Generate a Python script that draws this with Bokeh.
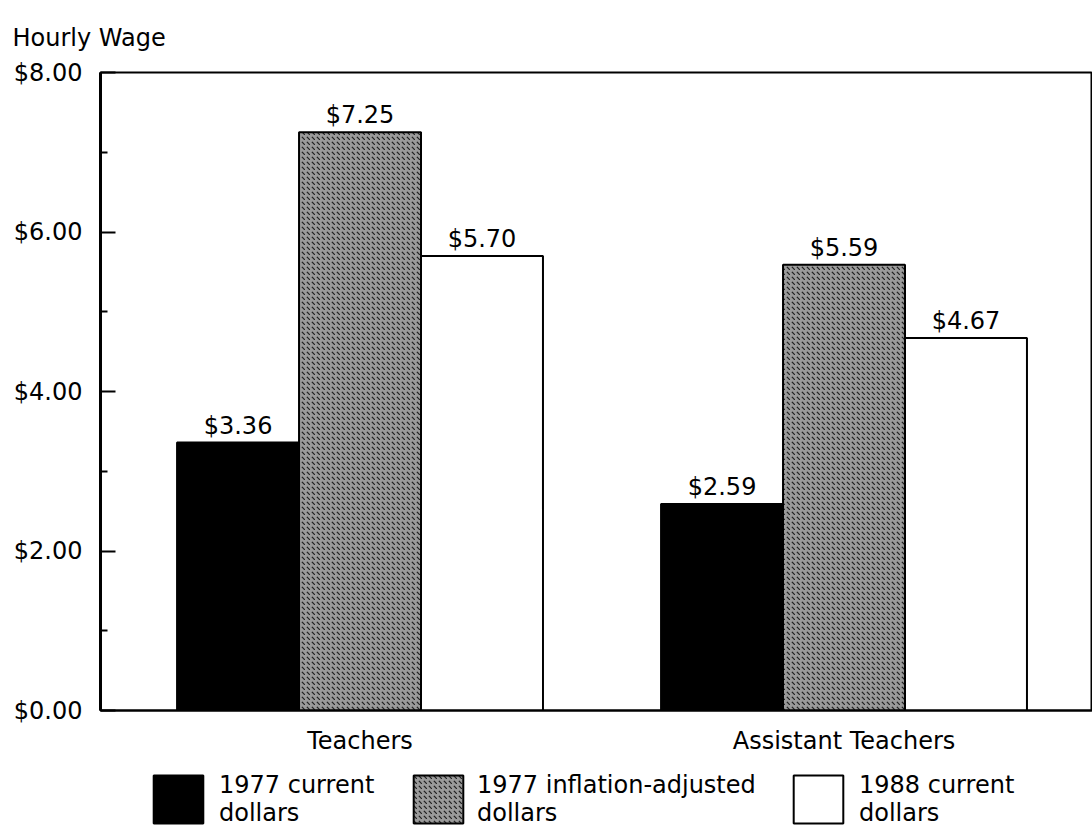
from bokeh.plotting import figure
from bokeh.layouts import column
from bokeh.models import ColumnDataSource, Range1d, FixedTicker, Legend, LegendItem
from bokeh.transform import dodge
from bokeh.embed import file_html
from bokeh.resources import INLINE
from bokeh.core.properties import value

# ---- data ----
categories = ["Teachers", "Assistant Teachers"]
wage_1977_current = [3.36, 2.59]
wage_1977_adjusted = [7.25, 5.59]
wage_1988_current = [5.70, 4.67]
series_labels = ["1977 current\ndollars", "1977 inflation-adjusted\ndollars", "1988 current\ndollars"]
y_ticks = [0, 2, 4, 6, 8]
y_tick_labels = ["$0.00", "$2.00", "$4.00", "$6.00", "$8.00"]
y_minor_ticks = [1, 3, 5, 7]
y_axis_title = "Hourly Wage"

FONT = "DejaVu Sans"
FS = "24px"

x_pos = [i + 0.5 for i in range(len(categories))]
src = ColumnDataSource(dict(
    x=x_pos,
    a=wage_1977_current,
    b=wage_1977_adjusted,
    c=wage_1988_current,
    la=["$%.2f" % v for v in wage_1977_current],
    lb=["$%.2f" % v for v in wage_1977_adjusted],
    lc=["$%.2f" % v for v in wage_1988_current],
))

styles = [
    dict(fill_color="black"),
    dict(fill_color="#9a9a9a", hatch_pattern="left_diagonal_dash",
         hatch_color="#222222", hatch_scale=5, hatch_weight=1.2),
    dict(fill_color="white"),
]

p = figure(frame_width=992, frame_height=638,
           x_range=Range1d(-0.0362, 2.0134), y_range=Range1d(0, 8),
           output_backend="svg", toolbar_location=None,
           min_border_left=100, min_border_right=0,
           min_border_top=72, min_border_bottom=0)

p.outline_line_color = "black"
p.outline_line_width = 2
p.xgrid.grid_line_color = None
p.ygrid.grid_line_color = None
p.background_fill_color = "white"
p.border_fill_color = "white"

# caption at top-left
p.title.text = y_axis_title
p.title.align = "left"
p.title.offset = -88
p.title.standoff = 42
p.title.text_font = FONT
p.title.text_font_size = FS
p.title.text_font_style = "normal"
p.title.text_color = "black"

w = 0.252
renderers = []
for col, lab, off, style in zip(["a", "b", "c"], ["la", "lb", "lc"], [-w, 0.0, w], styles):
    r = p.vbar(x=dodge("x", off), top=col, width=w, source=src,
               line_color="black", line_width=2, **style)
    renderers.append(r)
    p.text(x=dodge("x", off), y=col, text=lab, source=src,
           text_align="center", text_baseline="bottom", y_offset=-3,
           text_font=value(FONT), text_font_size=FS, text_color="black")

# y axis
ya = p.yaxis[0]
ya.ticker = FixedTicker(ticks=y_ticks, minor_ticks=y_minor_ticks)
ya.major_label_overrides = {t: l for t, l in zip(y_ticks, y_tick_labels)}
ya.major_tick_in = 15
ya.major_tick_out = 0
ya.minor_tick_in = 7
ya.minor_tick_out = 0
ya.major_tick_line_width = 2
ya.minor_tick_line_width = 2
ya.axis_line_width = 3
ya.axis_line_color = "black"
ya.major_tick_line_color = "black"
ya.minor_tick_line_color = "black"
ya.major_label_standoff = 18
ya.major_label_text_font = FONT
ya.major_label_text_font_size = FS
ya.major_label_text_color = "black"

# x axis
xa = p.xaxis[0]
xa.ticker = FixedTicker(ticks=x_pos, minor_ticks=[])
xa.major_label_overrides = {x: c for x, c in zip(x_pos, categories)}
xa.major_tick_in = 0
xa.major_tick_out = 0
xa.minor_tick_in = 0
xa.minor_tick_out = 0
xa.axis_line_width = 2
xa.axis_line_color = "black"
xa.major_label_standoff = 16
xa.major_label_text_font = FONT
xa.major_label_text_font_size = FS
xa.major_label_text_color = "black"

# legend strip below the chart (frame is aligned with the chart's frame)
p2 = figure(width=1092, height=73, x_range=Range1d(0, 1), y_range=Range1d(1, 2),
            output_backend="svg", toolbar_location=None,
            min_border=0, min_border_left=0, min_border_right=0,
            min_border_top=0, min_border_bottom=0)
p2.axis.visible = False
p2.grid.visible = False
p2.outline_line_color = None
p2.background_fill_color = "white"
p2.border_fill_color = "white"

# zero-size swatch carriers (outside the strip's visible range)
proxies = [p2.vbar(x=[0], top=[0], width=0, line_color="black", line_width=2, **s) for s in styles]
locs = [(47, 1), (307, 1), (687, 1)]
standoffs = [10, 8, 10]
for r, lab, loc, so in zip(proxies, series_labels, locs, standoffs):
    leg = Legend(items=[LegendItem(label=lab, renderers=[r])], location=loc,
                 orientation="horizontal", glyph_width=62, glyph_height=60,
                 label_standoff=so, padding=0, margin=0, spacing=0,
                 border_line_color=None, background_fill_alpha=0,
                 label_text_font=FONT, label_text_font_size=FS,
                 label_text_line_height=1.05, label_text_color="black")
    p2.add_layout(leg, "center")

lay = column(p, p2, spacing=0)
open("out.html", "w").write(file_html(lay, INLINE))
